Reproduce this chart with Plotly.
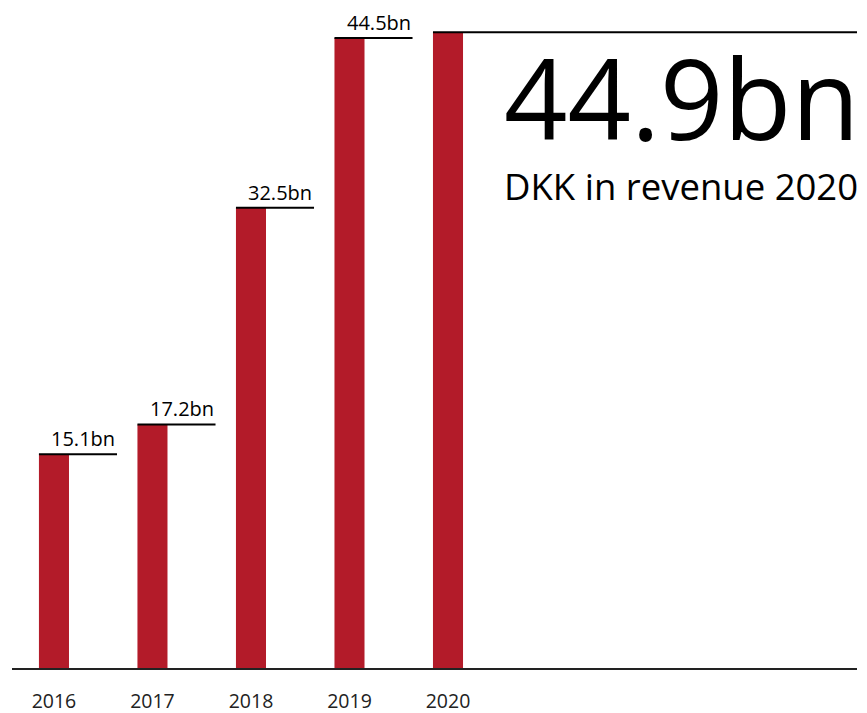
import plotly.graph_objects as go

years = ["2016", "2017", "2018", "2019", "2020"]
revenue = [15.1, 17.2, 32.5, 44.5, 44.9]
labels = ["15.1bn", "17.2bn", "32.5bn", "44.5bn", ""]
headline = "44.9bn"
subline = "DKK in revenue 2020"

RED = "#b31b29"
W, H = 867, 713
ML, MR, MT, MB = 12, 10, 0, 45
xr = [-0.426, 8.152]
px_per_unit = 14.16
yr = [0, (H - MT - MB) / px_per_unit]

xs = list(range(len(years)))
bw = 0.305
lead = 0.64

fig = go.Figure()
fig.add_trace(go.Bar(x=xs, y=revenue, width=bw, marker=dict(color=RED, line=dict(width=0)),
                     hoverinfo="skip"))

shapes = []
annotations = []
for i, (v, lab) in enumerate(zip(revenue, labels)):
    x0 = i - bw / 2
    x1 = i + lead if i < len(years) - 1 else xr[1]
    shapes.append(dict(type="line", xref="x", yref="y", x0=x0, x1=x1, y0=v, y1=v,
                       line=dict(color="black", width=2)))
    if lab:
        annotations.append(dict(x=x1, y=v, xref="x", yref="y", text=lab, showarrow=False,
                                xanchor="right", yanchor="bottom", yshift=0,
                                font=dict(family="Open Sans", size=20, color="black")))

annotations.append(dict(x=1, y=0.855, xref="paper", yref="paper", text=headline, showarrow=False,
                        xanchor="right", yanchor="middle", xshift=5,
                        font=dict(family="Open Sans", size=111, color="black")))
annotations.append(dict(x=1, y=0.722, xref="paper", yref="paper", text=subline, showarrow=False,
                        xanchor="right", yanchor="middle", xshift=3,
                        font=dict(family="Open Sans", size=36.5, color="black")))

fig.update_layout(
    width=W, height=H,
    margin=dict(l=ML, r=MR, t=MT, b=MB, pad=0),
    paper_bgcolor="white", plot_bgcolor="white",
    showlegend=False,
    shapes=shapes, annotations=annotations,
    xaxis=dict(range=xr, tickvals=xs, ticktext=years, showgrid=False, zeroline=False,
               showline=True, linecolor="#222", linewidth=2, ticks="",
               ticklabelstandoff=15,
               tickfont=dict(family="Open Sans", size=19.5, color="#222")),
    yaxis=dict(range=yr, visible=False, showgrid=False, zeroline=False),
)

fig.write_html(
    "out.html",
    config={"displayModeBar": False},
    post_script="document.body.style.margin='0';document.body.style.overflow='hidden';",
)
